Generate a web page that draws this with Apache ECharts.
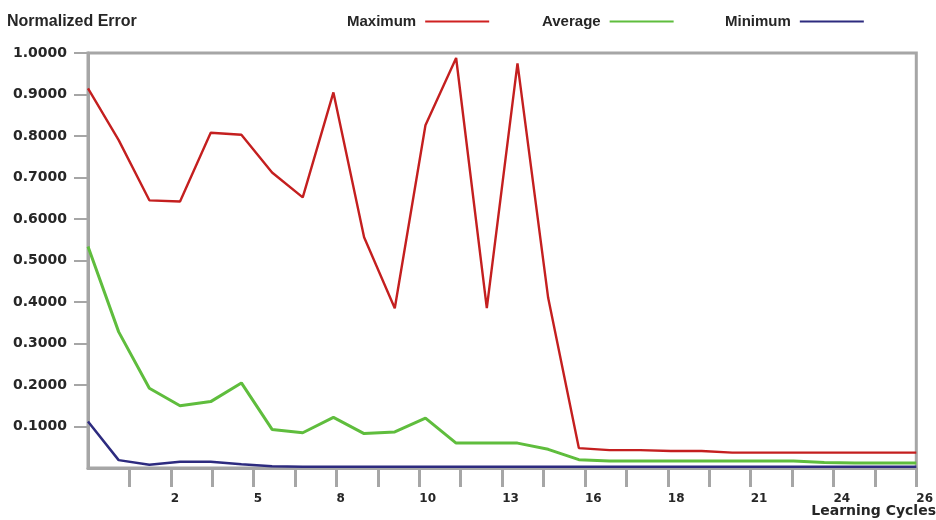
<!DOCTYPE html>
<html>
<head>
<meta charset="utf-8">
<script src="https://cdn.jsdelivr.net/npm/echarts@6/dist/echarts.min.js"></script>
<style>
  html, body { margin: 0; padding: 0; background: #fff; }
  #chart { width: 936px; height: 520px; }
</style>
</head>
<body>
<div id="chart"></div>
<script>
// Normalized error per learning cycle (one value per cycle, starting at cycle 0)
const maximumError = [
  0.915, 0.790, 0.645, 0.642, 0.808, 0.803, 0.712, 0.652, 0.905, 0.556,
  0.385, 0.826, 0.988, 0.385, 0.975, 0.410, 0.048, 0.043, 0.043, 0.041,
  0.041, 0.037, 0.037, 0.037, 0.037, 0.037, 0.037, 0.037
];
const averageError = [
  0.534, 0.328, 0.192, 0.150, 0.160, 0.205, 0.093, 0.085, 0.122, 0.083,
  0.087, 0.120, 0.060, 0.060, 0.060, 0.045, 0.020, 0.017, 0.017, 0.017,
  0.017, 0.017, 0.017, 0.017, 0.013, 0.012, 0.012, 0.012
];
const minimumError = [
  0.112, 0.019, 0.008, 0.015, 0.015, 0.009, 0.004, 0.003, 0.003, 0.003,
  0.003, 0.003, 0.003, 0.003, 0.003, 0.003, 0.003, 0.003, 0.003, 0.003,
  0.003, 0.003, 0.003, 0.003, 0.003, 0.003, 0.003, 0.003
];

// Bottom axis: 20 tick steps across the cycle range, every second one labelled
const xTickLabels = ['', '', '2', '', '5', '', '8', '', '10', '', '13', '', '16', '', '18', '', '21', '', '24', '', '26'];
const yTickLabels = ['0.1000', '0.2000', '0.3000', '0.4000', '0.5000', '0.6000', '0.7000', '0.8000', '0.9000', '1.0000'];

const cycleMax = maximumError.length - 1;
const tickStep = cycleMax / (xTickLabels.length - 1);
const xTicks = xTickLabels.map((_, i) => i * tickStep).slice(1);
const xLabelTicks = xTickLabels.map((t, i) => t ? i * tickStep : null).filter(v => v !== null);
const yTicks = yTickLabels.map(t => parseFloat(t));

const toPoints = arr => arr.map((v, i) => [i, v]);

const frame = '#a6a6a6';
const ink = '#262626';
const labelFamily = 'DejaVu Sans';
const headFont = { fontFamily: '"Liberation Sans Narrow", "Liberation Sans", Arial', fontWeight: 'bold', color: ink, fontSize: 15 };

const chart = echarts.init(document.getElementById('chart'), null, { renderer: 'canvas' });

function legendAt(name, left) {
  return {
    data: [name], left: left, top: 9, align: 'right', icon: 'rect',
    itemWidth: 64, itemHeight: 2, itemGap: 0, selectedMode: false,
    textStyle: Object.assign({}, headFont, { padding: [0, 4, 0, 0] })
  };
}

chart.setOption({
  animation: false,
  backgroundColor: '#fff',
  title: [
    { text: 'Normalized Error', left: 7, top: 14, padding: 0,
      textStyle: Object.assign({}, headFont, { fontSize: 16 }) },
    { text: 'Learning Cycles', right: 0, top: 504, padding: 0,
      textStyle: { fontFamily: labelFamily, fontWeight: 'bold', color: ink, fontSize: 14 } }
  ],
  legend: [legendAt('Maximum', 342), legendAt('Average', 537), legendAt('Minimum', 720)],
  grid: {
    left: 88, top: 53, width: 831, height: 415,
    show: true, borderColor: frame, borderWidth: 3, backgroundColor: '#fff'
  },
  xAxis: {
    type: 'value', min: 0, max: cycleMax,
    splitLine: { show: false },
    axisLine: { lineStyle: { color: frame, width: 3 } },
    axisTick: { show: true, length: 19, customValues: xTicks, lineStyle: { color: frame, width: 3 } },
    axisLabel: {
      customValues: xLabelTicks, margin: 25, align: 'left', fontSize: 12,
      fontFamily: labelFamily, fontWeight: 'bold', color: ink,
      formatter: v => xTickLabels[Math.round(v / tickStep)] || ''
    }
  },
  yAxis: {
    type: 'value', min: 0, max: 1,
    splitLine: { show: false },
    axisLine: { lineStyle: { color: frame, width: 3 } },
    axisTick: { show: true, length: 14, customValues: yTicks, lineStyle: { color: frame, width: 2 } },
    axisLabel: {
      customValues: yTicks, margin: 21, fontSize: 14,
      fontFamily: labelFamily, fontWeight: 'bold', color: ink,
      formatter: v => yTickLabels[Math.round(v * 10) - 1] || ''
    }
  },
  series: [
    { name: 'Maximum', type: 'line', data: toPoints(maximumError), showSymbol: false,
      color: '#cf2121', lineStyle: { width: 2.4, color: '#c41f1f' }, z: 3 },
    { name: 'Average', type: 'line', data: toPoints(averageError), showSymbol: false,
      color: '#5fbd3d', lineStyle: { width: 3, color: '#5fbd3d' }, z: 2 },
    { name: 'Minimum', type: 'line', data: toPoints(minimumError), showSymbol: false,
      color: '#2d2b7f', lineStyle: { width: 2.5, color: '#2d2b7f' }, z: 4 }
  ]
});
</script>
</body>
</html>
